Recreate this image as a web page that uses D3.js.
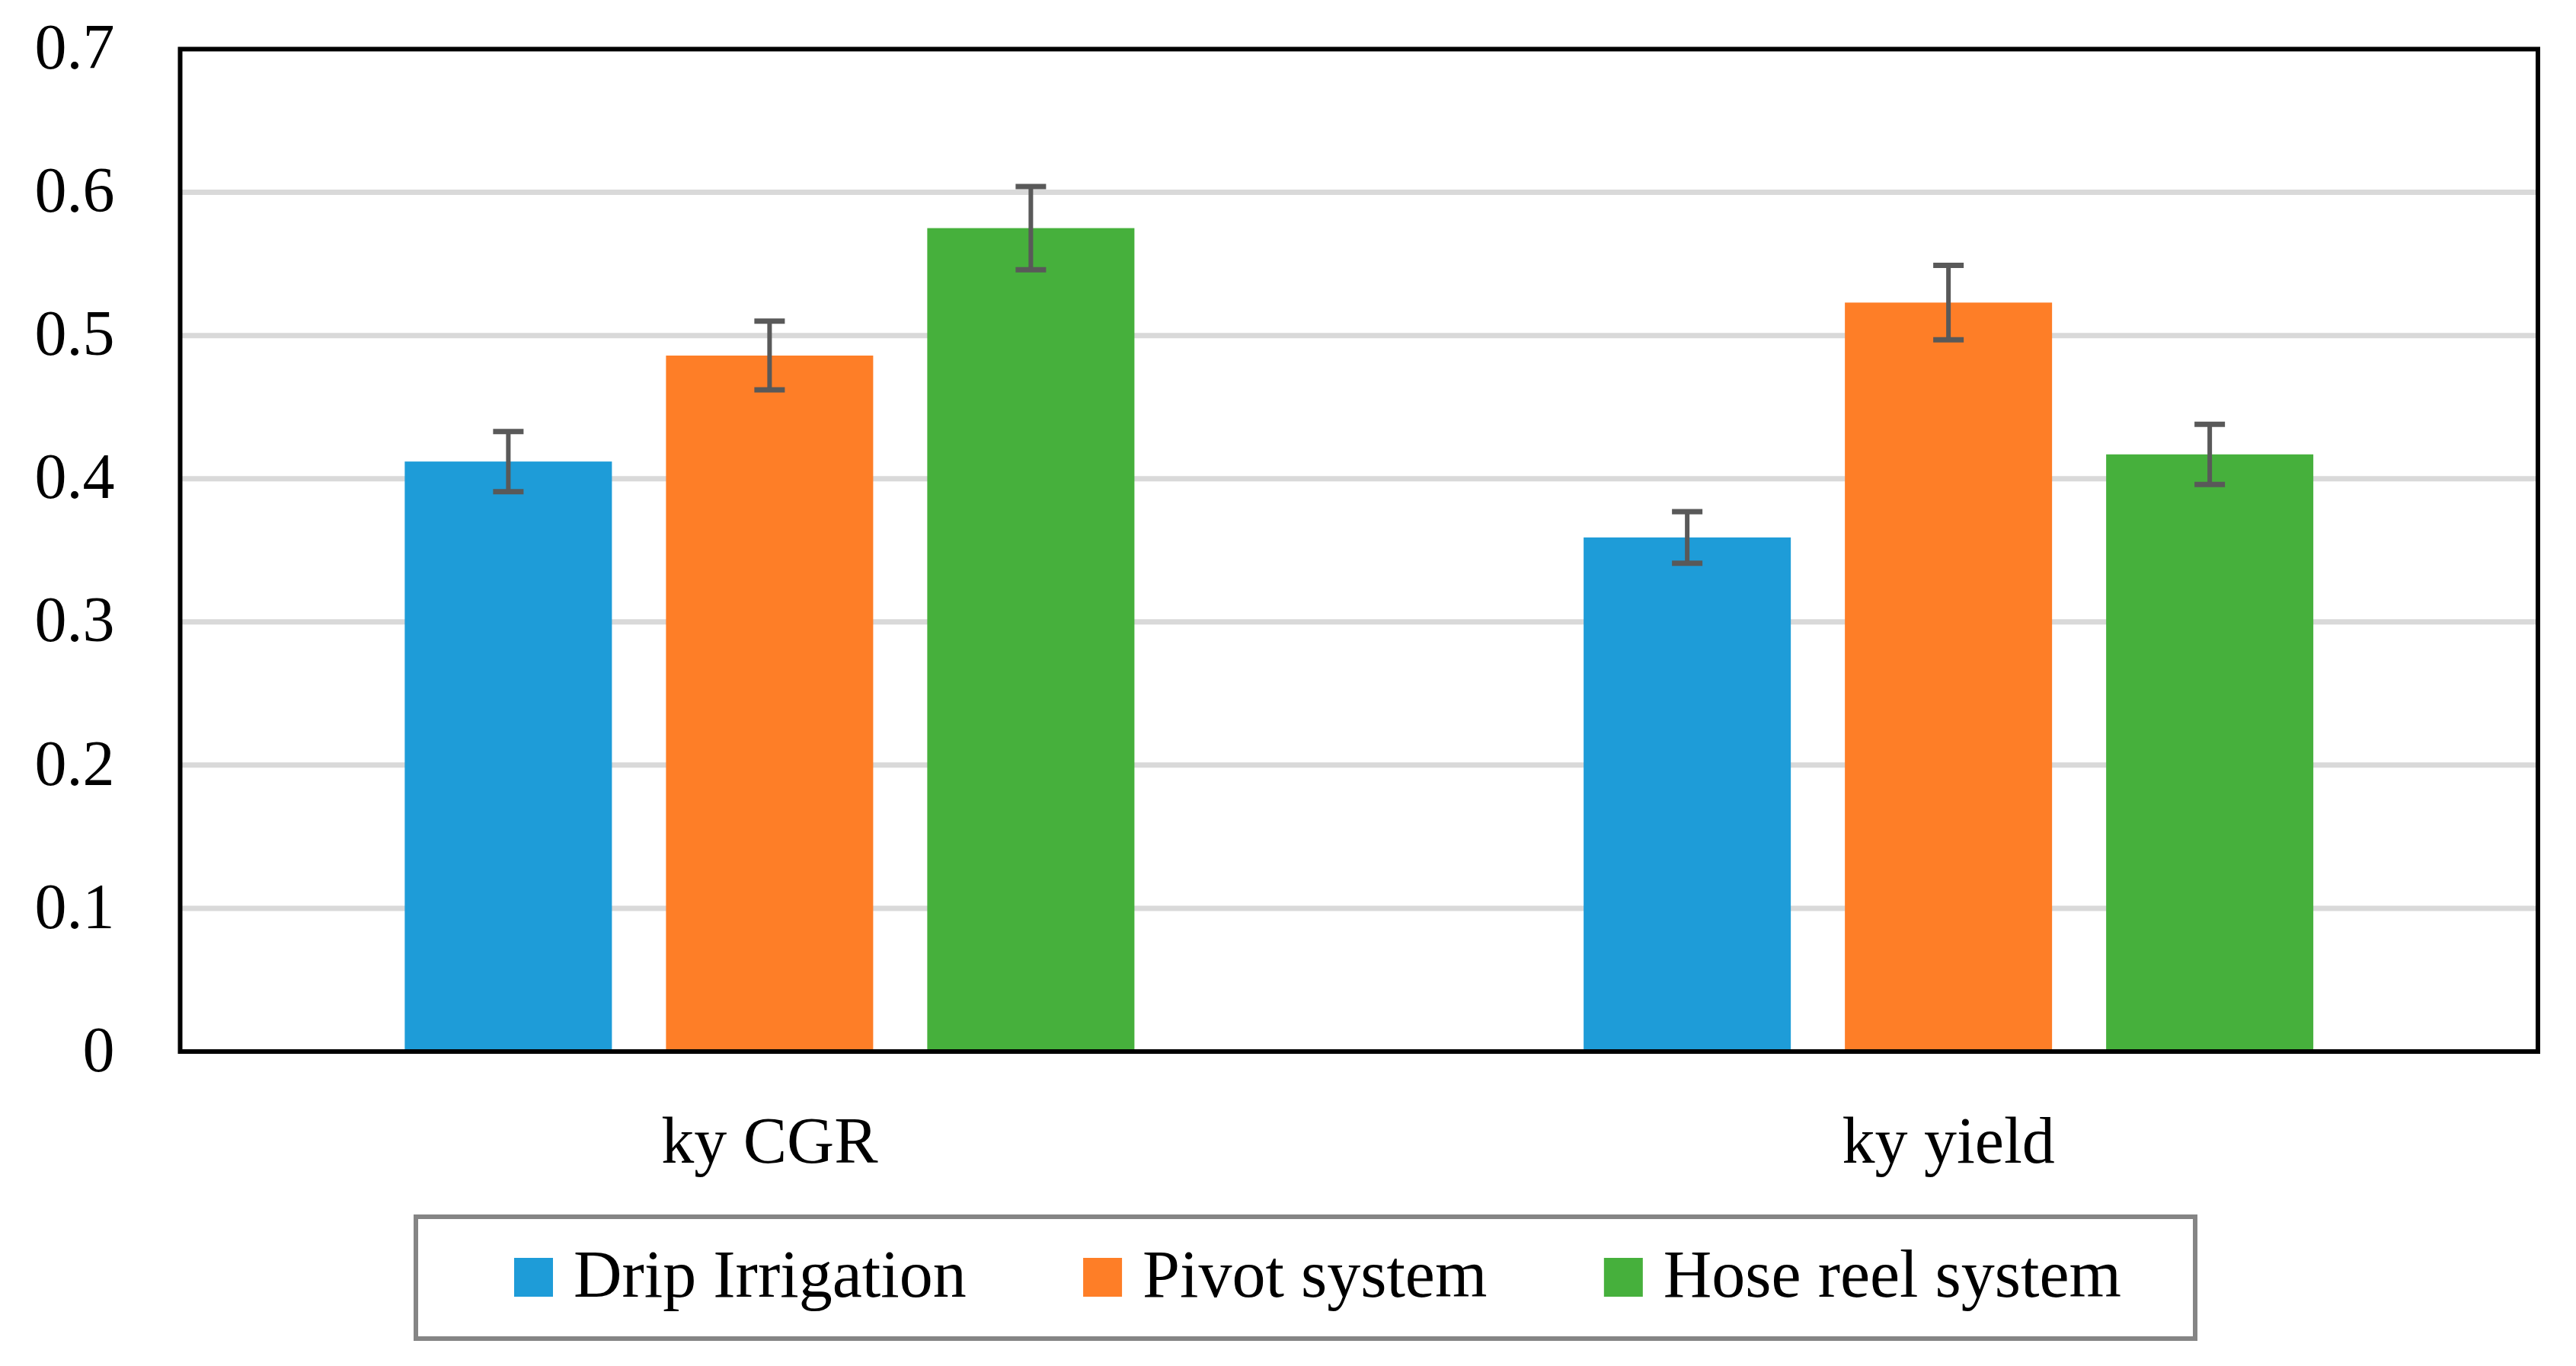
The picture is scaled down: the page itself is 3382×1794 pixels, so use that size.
<!DOCTYPE html>
<html>
<head>
<meta charset="utf-8">
<script src="https://cdn.jsdelivr.net/npm/d3@7"></script>
<style>
  body { margin: 0; background: #fff; }
  text { font-family: "Liberation Serif", "DejaVu Serif", serif; fill: #000; }
</style>
</head>
<body>
<svg id="chart"></svg>
<script>
// data
var categories = ["ky CGR", "ky yield"];
var series = ["Drip Irrigation", "Pivot system", "Hose reel system"];
var dripValues = [0.412, 0.359];
var pivotValues = [0.486, 0.523];
var hoseValues = [0.575, 0.417];
var dripErr = [0.021, 0.018];
var pivotErr = [0.024, 0.026];
var hoseErr = [0.029, 0.021];
var yTicks = [0, 0.1, 0.2, 0.3, 0.4, 0.5, 0.6, 0.7];
var colors = ["#1e9cd8", "#fe7e27", "#46b03c"];

var W = 3382, H = 1794;
var svg = d3.select("#chart").attr("width", W).attr("height", H);
svg.append("rect").attr("width", W).attr("height", H).attr("fill", "#fff");

// plot frame (note: "top" is taken by window.top)
var pLeft = 236.5, pRight = 3332, pTop = 64.5, pBottom = 1381;

var x0 = d3.scaleBand().domain(categories).range([pLeft, pRight]).padding(0);
var x1 = d3.scaleBand().domain(series).range([-514.5, 514.5])
    .paddingInner(0.207).paddingOuter(0.1035);
var y = d3.scaleLinear().domain([0, 0.7]).range([pBottom, pTop]);
var color = d3.scaleOrdinal().domain(series).range(colors);

var values = [dripValues, pivotValues, hoseValues];
var errs = [dripErr, pivotErr, hoseErr];
var rows = [];
series.forEach(function(s, i){
    categories.forEach(function(c, j){
        rows.push({s: s, c: c, v: values[i][j], e: errs[i][j]});
    });
});

// gridlines
svg.append("g").selectAll("line")
    .data(yTicks.filter(function(d){ return d > 0 && d < 0.7; }))
    .enter().append("line")
    .attr("x1", pLeft).attr("x2", pRight)
    .attr("y1", function(d){ return y(d); })
    .attr("y2", function(d){ return y(d); })
    .attr("stroke", "#d9d9d9").attr("stroke-width", 7);

// bars
svg.append("g").selectAll("rect")
    .data(rows).enter().append("rect")
    .attr("x", function(d){ return x0(d.c) + x0.bandwidth()/2 + x1(d.s); })
    .attr("width", x1.bandwidth())
    .attr("y", function(d){ return y(d.v); })
    .attr("height", function(d){ return y(0) - y(d.v); })
    .attr("fill", function(d){ return color(d.s); });

// error bars
var eb = svg.append("g").selectAll("g")
    .data(rows).enter().append("g")
    .attr("transform", function(d){
        return "translate(" + (x0(d.c) + x0.bandwidth()/2 + x1(d.s) + x1.bandwidth()/2) + ",0)";
    });
eb.append("line")
    .attr("y1", function(d){ return y(d.v + d.e); })
    .attr("y2", function(d){ return y(d.v - d.e); })
    .attr("stroke", "#595959").attr("stroke-width", 6);
eb.selectAll("line.cap")
    .data(function(d){ return [d.v + d.e, d.v - d.e]; })
    .enter().append("line").attr("class", "cap")
    .attr("x1", -20).attr("x2", 20)
    .attr("y1", function(d){ return y(d); })
    .attr("y2", function(d){ return y(d); })
    .attr("stroke", "#595959").attr("stroke-width", 7);

// frame
svg.append("rect")
    .attr("x", pLeft).attr("y", pTop)
    .attr("width", pRight - pLeft).attr("height", pBottom - pTop)
    .attr("fill", "none").attr("stroke", "#000").attr("stroke-width", 6);

// y axis labels
var yAxis = d3.axisLeft(y).tickValues(yTicks).tickSize(0).tickPadding(86)
    .tickFormat(function(d){ return d === 0 ? "0" : d3.format(".1f")(d); });
var ya = svg.append("g").attr("transform", "translate(" + pLeft + ",0)").call(yAxis);
ya.select(".domain").remove();
ya.selectAll("text").attr("font-size", 84).attr("font-family", null).attr("dy", "0.3em");

// category labels
svg.append("g").selectAll("text")
    .data(categories).enter().append("text")
    .attr("x", function(d){ return x0(d) + x0.bandwidth()/2; })
    .attr("y", 1527)
    .attr("text-anchor", "middle")
    .attr("font-size", 86)
    .text(function(d){ return d; });

// legend
var lg = svg.append("g");
lg.append("rect")
    .attr("x", 546).attr("y", 1598).attr("width", 2882 - 546).attr("height", 1758 - 1598)
    .attr("fill", "#fff").attr("stroke", "#858585").attr("stroke-width", 6);

var items = lg.selectAll("g.item").data(series).enter().append("g").attr("class", "item");
items.append("rect")
    .attr("width", 51).attr("height", 51).attr("y", 1652)
    .attr("fill", function(d){ return color(d); });
items.append("text")
    .attr("x", 78).attr("y", 1703)
    .attr("font-size", 88)
    .text(function(d){ return d; });

// spread the entries over the same span as the reference legend
var widths = [];
items.each(function(){ widths.push(78 + d3.select(this).select("text").node().getComputedTextLength()); });
var span = 2110, cx = 1730;
var gap = (span - d3.sum(widths)) / (widths.length - 1);
var pos = cx - span/2;
items.each(function(d, i){
    d3.select(this).attr("transform", "translate(" + pos + ",0)");
    pos += widths[i] + gap;
});
</script>
</body>
</html>
